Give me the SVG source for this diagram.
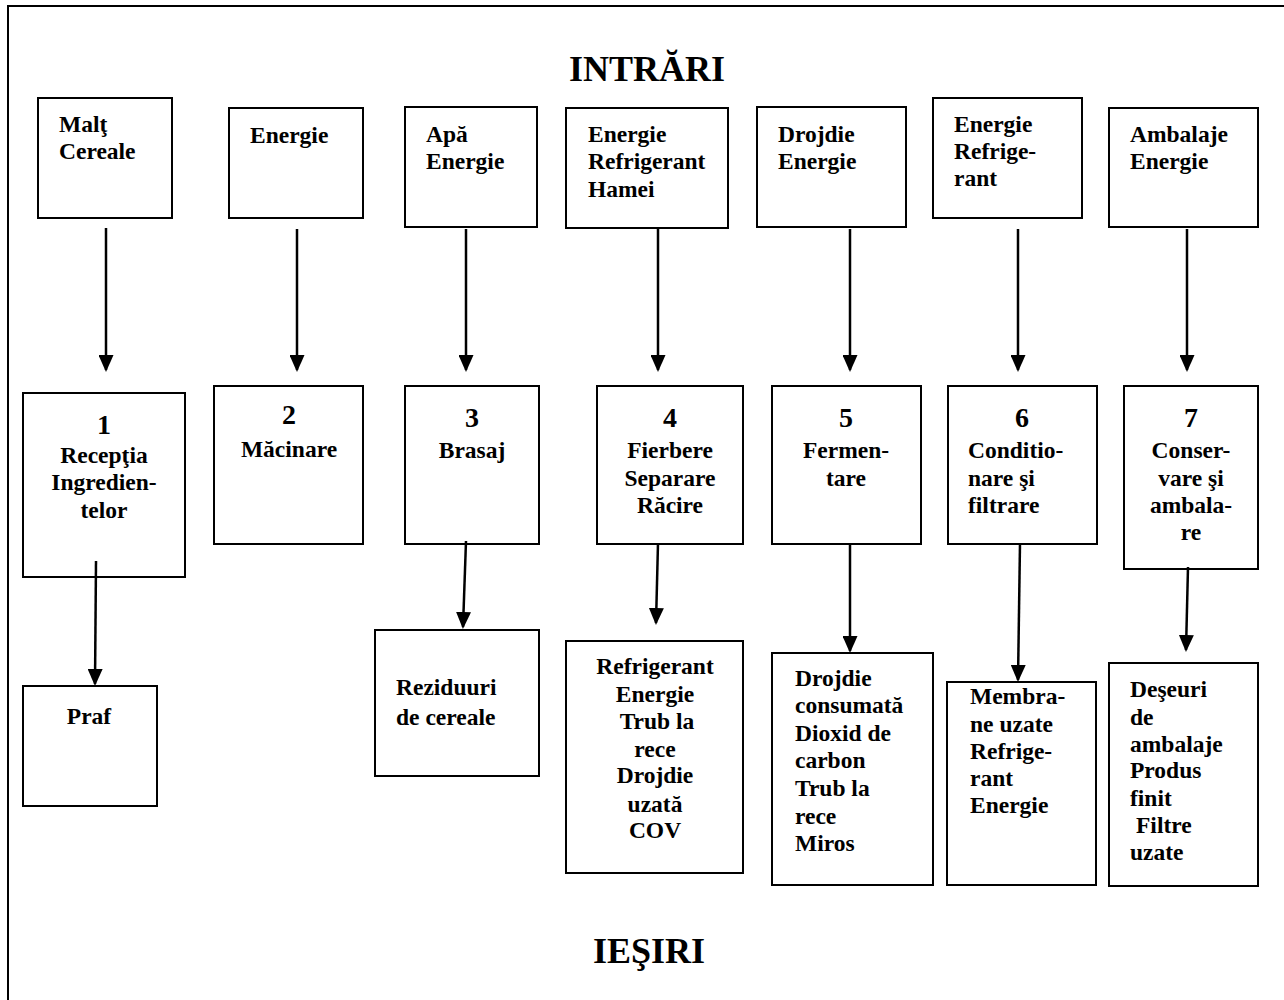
<svg xmlns="http://www.w3.org/2000/svg" width="1284" height="1000" viewBox="0 0 1284 1000">
<style>
.box{fill:#fff;stroke:#000;stroke-width:2}
.t{font-family:"Liberation Serif","Times New Roman",serif;font-weight:bold;font-size:23.5px;fill:#000}
.c{text-anchor:middle}
.num{font-size:28px}
.title{font-size:36px;text-anchor:middle}
.arr{stroke:#000;stroke-width:2.5;fill:none;marker-end:url(#ah)}
</style>
<defs>
<marker id="ah" viewBox="0 0 17 15" refX="15" refY="7.5" markerWidth="17" markerHeight="15" markerUnits="userSpaceOnUse" orient="auto">
<path d="M0,0 L17,7.5 L0,15 z" fill="#000"/>
</marker>
</defs>
<rect x="0" y="0" width="1284" height="1000" fill="#fff"/>
<rect x="8" y="6" width="1290" height="1010" fill="none" stroke="#000" stroke-width="2"/>
<text class="t title" x="647" y="81">INTRĂRI</text>
<text class="t title" x="649" y="963">IEŞIRI</text>

<g id="in1"><rect class="box" x="38" y="98" width="134" height="120"/><text class="t" x="59" y="132">Malţ</text><text class="t" x="59" y="159">Cereale</text></g>
<g id="in2"><rect class="box" x="229" y="108" width="134" height="110"/><text class="t" x="250" y="143">Energie</text></g>
<g id="in3"><rect class="box" x="405" y="107" width="132" height="120"/><text class="t" x="426" y="142">Apă</text><text class="t" x="426" y="169">Energie</text></g>
<g id="in4"><rect class="box" x="566" y="108" width="162" height="120"/><text class="t" x="588" y="142">Energie</text><text class="t" x="588" y="169">Refrigerant</text><text class="t" x="588" y="197">Hamei</text></g>
<g id="in5"><rect class="box" x="757" y="107" width="149" height="120"/><text class="t" x="778" y="142">Drojdie</text><text class="t" x="778" y="169">Energie</text></g>
<g id="in6"><rect class="box" x="933" y="98" width="149" height="120"/><text class="t" x="954" y="132">Energie</text><text class="t" x="954" y="159">Refrige-</text><text class="t" x="954" y="186">rant</text></g>
<g id="in7"><rect class="box" x="1109" y="108" width="149" height="119"/><text class="t" x="1130" y="142">Ambalaje</text><text class="t" x="1130" y="169">Energie</text></g>

<g id="p1"><rect class="box" x="23" y="393" width="162" height="184"/><text class="t c num" x="104" y="434">1</text><text class="t c" x="104" y="463">Recepţia</text><text class="t c" x="104" y="490">Ingredien-</text><text class="t c" x="104" y="518">telor</text></g>
<g id="p2"><rect class="box" x="214" y="386" width="149" height="158"/><text class="t c num" x="289" y="424">2</text><text class="t c" x="289" y="457">Măcinare</text></g>
<g id="p3"><rect class="box" x="405" y="386" width="134" height="158"/><text class="t c num" x="472" y="427">3</text><text class="t c" x="472" y="458">Brasaj</text></g>
<g id="p4"><rect class="box" x="597" y="386" width="146" height="158"/><text class="t c num" x="670" y="427">4</text><text class="t c" x="670" y="458">Fierbere</text><text class="t c" x="670" y="486">Separare</text><text class="t c" x="670" y="513">Răcire</text></g>
<g id="p5"><rect class="box" x="772" y="386" width="149" height="158"/><text class="t c num" x="846" y="427">5</text><text class="t c" x="846" y="458">Fermen-</text><text class="t c" x="846" y="486">tare</text></g>
<g id="p6"><rect class="box" x="948" y="386" width="149" height="158"/><text class="t c num" x="1022" y="427">6</text><text class="t" x="968" y="458">Conditio-</text><text class="t" x="968" y="486">nare şi</text><text class="t" x="968" y="513">filtrare</text></g>
<g id="p7"><rect class="box" x="1124" y="386" width="134" height="183"/><text class="t c num" x="1191" y="427">7</text><text class="t c" x="1191" y="458">Conser-</text><text class="t c" x="1191" y="486">vare şi</text><text class="t c" x="1191" y="513">ambala-</text><text class="t c" x="1191" y="540">re</text></g>

<g id="out1"><rect class="box" x="23" y="686" width="134" height="120"/><text class="t c" x="89" y="724">Praf</text></g>
<g id="out3"><rect class="box" x="375" y="630" width="164" height="146"/><text class="t" x="396" y="695">Reziduuri</text><text class="t" x="396" y="725">de cereale</text></g>
<g id="out4"><rect class="box" x="566" y="641" width="177" height="232"/><text class="t c" x="655" y="674">Refrigerant</text><text class="t c" x="655" y="702">Energie</text><text class="t c" x="657" y="729">Trub la</text><text class="t c" x="655" y="757">rece</text><text class="t c" x="655" y="783">Drojdie</text><text class="t c" x="655" y="812">uzată</text><text class="t c" x="655" y="838">COV</text></g>
<g id="out5"><rect class="box" x="772" y="653" width="161" height="232"/><text class="t" x="795" y="686">Drojdie</text><text class="t" x="795" y="713">consumată</text><text class="t" x="795" y="741">Dioxid de</text><text class="t" x="795" y="768">carbon</text><text class="t" x="795" y="796">Trub la</text><text class="t" x="795" y="824">rece</text><text class="t" x="795" y="851">Miros</text></g>
<g id="out6"><rect class="box" x="947" y="682" width="149" height="203"/><text class="t" x="970" y="704">Membra-</text><text class="t" x="970" y="732">ne uzate</text><text class="t" x="970" y="759">Refrige-</text><text class="t" x="970" y="786">rant</text><text class="t" x="970" y="813">Energie</text></g>
<g id="out7"><rect class="box" x="1109" y="663" width="149" height="223"/><text class="t" x="1130" y="697">Deşeuri</text><text class="t" x="1130" y="725">de</text><text class="t" x="1130" y="752">ambalaje</text><text class="t" x="1130" y="778">Produs</text><text class="t" x="1130" y="806">finit</text><text class="t" x="1136" y="833">Filtre</text><text class="t" x="1130" y="860">uzate</text></g>

<g id="connectors">
<line class="arr" x1="106" y1="228" x2="106" y2="370"/>
<line class="arr" x1="297" y1="229" x2="297" y2="370"/>
<line class="arr" x1="466" y1="229" x2="466" y2="370"/>
<line class="arr" x1="658" y1="229" x2="658" y2="370"/>
<line class="arr" x1="850" y1="229" x2="850" y2="370"/>
<line class="arr" x1="1018" y1="229" x2="1018" y2="370"/>
<line class="arr" x1="1187" y1="229" x2="1187" y2="370"/>
<line class="arr" x1="96" y1="561" x2="95" y2="684"/>
<line class="arr" x1="466" y1="541" x2="463" y2="627"/>
<line class="arr" x1="658" y1="543" x2="656" y2="623"/>
<line class="arr" x1="850" y1="543" x2="850" y2="651"/>
<line class="arr" x1="1020" y1="543" x2="1018" y2="680"/>
<line class="arr" x1="1188" y1="567" x2="1186" y2="650"/>
</g>
</svg>
